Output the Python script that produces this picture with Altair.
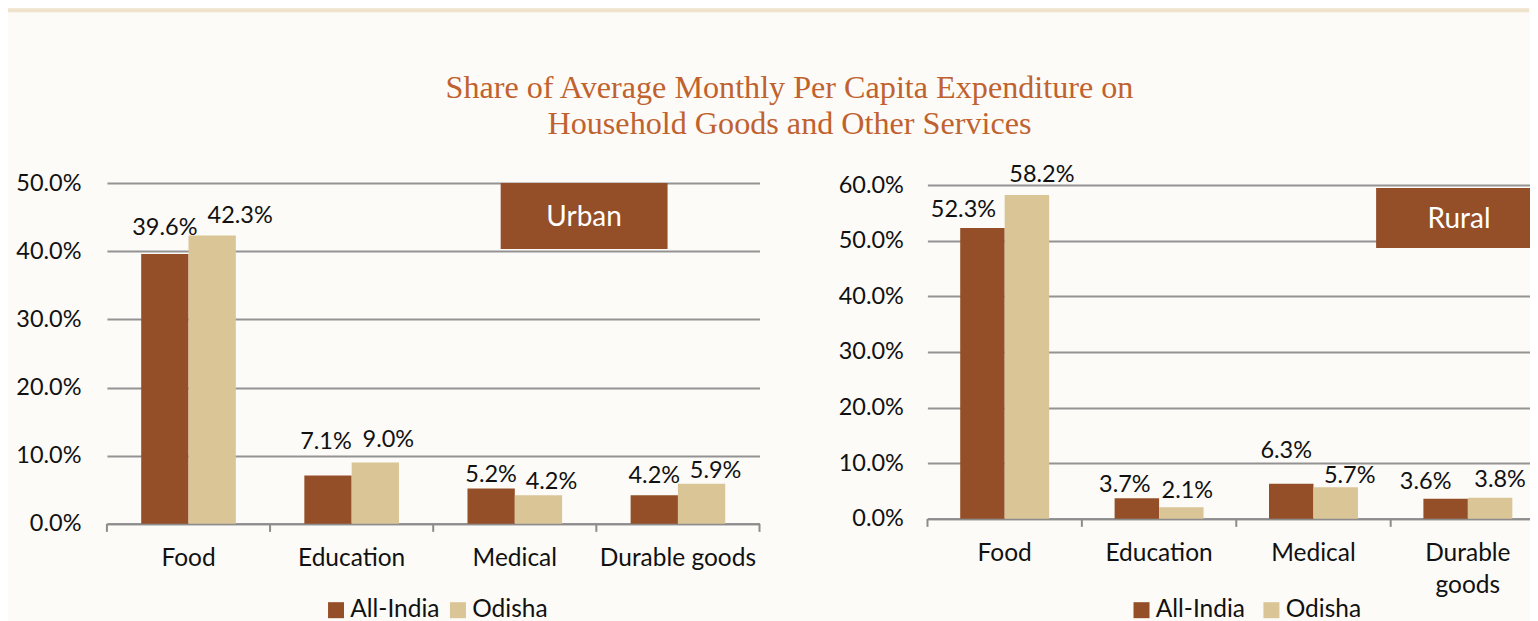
import altair as alt
import pandas as pd

categories = ["Food", "Education", "Medical", "Durable goods"]
series = ["All-India", "Odisha"]
urban_india = [39.6, 7.1, 5.2, 4.2]
urban_odisha = [42.3, 9.0, 4.2, 5.9]
rural_india = [52.3, 3.7, 6.3, 3.6]
rural_odisha = [58.2, 2.1, 5.7, 3.8]
title_lines = ["Share of Average Monthly Per Capita Expenditure on",
               "Household Goods and Other Services"]

# hand placement of the value labels (dx, dy) as in the reference
urban_nudge = [(0, -26), (28, -20), (-2, -33), (13, -23), (0, -13), (13, -13), (0, -19), (14, -13)]
rural_nudge = [(-19, -18), (15, -20), (-12, -13), (6, -16), (-5, -33), (14, -11), (-20, -17), (10, -18)]

FONT = "Lato"
BROWN, SAND, GRID = "#954f28", "#dac596", "#939393"
BG, BAND, TITLE = "#fcfbf7", "#efe3cc", "#c0622f"
TXT = "#111111"
FS_NUM = 23.5
FS_CAT = 24.5


def frame(a, b):
    rows = []
    for i, c in enumerate(categories):
        rows.append({"cat": c, "s": series[0], "v": a[i] / 100})
        rows.append({"cat": c, "s": series[1], "v": b[i] / 100})
    return pd.DataFrame(rows)


def panel(df, w, h, top, ymax, nudges, box, label_box, label_x, legend_xy, col_pad, ypad, wrap, band, tick_off):
    ys = alt.Scale(domain=[0, ymax], range=[h, top], nice=False)
    xs = alt.Scale(domain=categories, **band)
    x = alt.X("cat:N", scale=xs, title=None, sort=categories, axis=alt.Axis(
        labelAngle=0, labelFont=FONT, labelFontSize=FS_CAT, labelColor=TXT, labelPadding=23,
        ticks=False, domainColor="#8c8c8c", domainWidth=2, labelLimit=300,
        labelExpr=wrap, labelLineHeight=32))
    y = alt.Y("v:Q", scale=ys, title=None, axis=alt.Axis(
        values=[i / 100 for i in range(0, int(ymax * 100) + 1, 10)], format=".1%",
        labelFont=FONT, labelFontSize=FS_NUM, labelColor=TXT, labelPadding=ypad, ticks=False,
        domain=False, grid=True, gridColor=GRID, gridWidth=2))
    color = alt.Color("s:N", scale=alt.Scale(domain=series, range=[BROWN, SAND]), title=None,
                      legend=alt.Legend(orient="none", legendX=legend_xy[0], legendY=legend_xy[1],
                                        direction="horizontal", symbolType="square", symbolSize=256,
                                        symbolStrokeWidth=0, labelFont=FONT, labelFontSize=FS_CAT,
                                        labelColor=TXT, labelOffset=2, columnPadding=col_pad, padding=0))
    bars = alt.Chart(df).mark_bar(stroke=None).encode(x=x, xOffset=alt.XOffset("s:N", sort=series), y=y, color=color)
    ticks = alt.Chart(df[df.s == series[0]]).mark_rule(color="#8c8c8c", strokeWidth=2, xOffset=-tick_off).encode(
        x=alt.X("cat:N", scale=xs, bandPosition=0), y=alt.value(h), y2=alt.value(h + 8))
    layers = [bars, ticks]
    for i, (dx, dy) in enumerate(nudges):
        layers.append(alt.Chart(df.iloc[[i]]).mark_text(
            font=FONT, fontSize=FS_NUM, color=TXT, dx=dx, dy=dy).encode(
            x=alt.X("cat:N", scale=xs), xOffset=alt.XOffset("s:N", sort=series),
            y=alt.Y("v:Q", scale=ys), text=alt.Text("v:Q", format=".1%")))
    layers.append(alt.Chart(df.iloc[[0]]).mark_rect(color=BROWN).encode(
        x=alt.value(box[0]), x2=alt.value(box[1]), y=alt.value(box[2]), y2=alt.value(box[3])))
    layers.append(alt.Chart(df.iloc[[0]]).mark_text(font=FONT, fontSize=28, color="white").encode(
        x=alt.value(label_x), y=alt.value((box[2] + box[3]) / 2 + 2), text=alt.value(label_box)))
    return alt.layer(*layers).properties(width=w, height=h)


head_df = pd.DataFrame({"t": title_lines})
band_rect = alt.Chart(head_df.iloc[[0]]).mark_rect(color=BAND).encode(
    x=alt.value(-99), x2=alt.value(1423), y=alt.value(0), y2=alt.value(4))
t1 = alt.Chart(head_df.iloc[[0]]).mark_text(font="Liberation Serif", fontSize=32.2, color=TITLE).encode(
    x=alt.value(683), y=alt.value(80), text="t:N")
t2 = alt.Chart(head_df.iloc[[1]]).mark_text(font="Liberation Serif", fontSize=32.2, color=TITLE).encode(
    x=alt.value(683), y=alt.value(116), text="t:N")
head = alt.layer(band_rect, t1, t2).properties(width=1423, height=155)

# the end tick of the left axis sits at its right edge
left = panel(frame(urban_india, urban_odisha), 653, 341, 0, 0.5, urban_nudge,
             (394, 561, 0, 66), "Urban", 477.5, (217, 415), 6, 26, "datum.label",
             dict(paddingInner=0.42, paddingOuter=0.21), 34.3)
end_tick = alt.Chart(frame(urban_india, urban_odisha).iloc[[0]]).mark_rule(color="#8c8c8c", strokeWidth=2).encode(
    x=alt.value(653), y=alt.value(341), y2=alt.value(349))
left = alt.layer(left, end_tick)
right = panel(frame(rural_india, rural_odisha), 603, 336, 2, 0.6, rural_nudge,
              (449, 603, 5, 65), "Rural", 532, (202, 415), 14, 24,
              "datum.label == 'Durable goods' ? ['Durable', 'goods'] : datum.label",
              dict(paddingInner=0.424, paddingOuter=0.1635, align=0.65), 32.75)

chart = alt.vconcat(
    head,
    alt.hconcat(left, right, spacing=77).resolve_scale(color="independent", x="independent", y="independent", xOffset="independent"),
    spacing=0,
).properties(background=BG, padding=0).configure_view(stroke=None)

chart.save("out.html", embed_options={"renderer": "svg", "actions": False})
